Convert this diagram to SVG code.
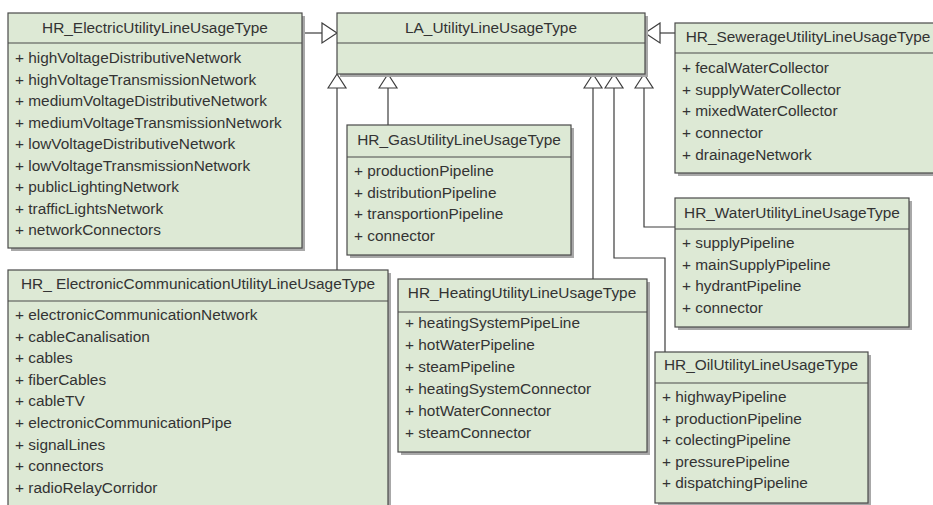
<svg xmlns="http://www.w3.org/2000/svg" width="933" height="505" viewBox="0 0 933 505">
  <style>
    .shadow { fill: #a8a8a8; }
    .box { fill: #dde9d5; stroke: #4a4a4a; stroke-width: 1.2; }
    .sep { stroke: #4a4a4a; stroke-width: 1.2; }
    .title { font-family: "Liberation Sans", Arial, sans-serif; font-size: 15.4px; fill: #333333; text-anchor: middle; }
    .attr { font-family: "Liberation Sans", Arial, sans-serif; font-size: 15.4px; fill: #333333; }
    .edge { fill: none; stroke: #3c3c3c; stroke-width: 1.2; }
    .head { fill: #ffffff; stroke: #3c3c3c; stroke-width: 1.2; stroke-linejoin: miter; }
  </style>
  <rect width="933" height="505" fill="#ffffff"/>

  <!-- generalisation connectors -->
  <g id="connectors">
    <!-- Electric -> LA -->
    <path class="edge" d="M302 33 H322"/>
    <polygon class="head" points="322,23 337,33 322,43"/>
    <!-- Sewerage -> LA -->
    <path class="edge" d="M675 33 H660"/>
    <polygon class="head" points="660,23 645,33 660,43"/>
    <!-- ElectronicCommunication -> LA -->
    <path class="edge" d="M337 270 V88"/>
    <polygon class="head" points="328,88 337,74 346,88"/>
    <!-- Gas -> LA -->
    <path class="edge" d="M388 125 V88"/>
    <polygon class="head" points="379,88 388,74 397,88"/>
    <!-- Heating -> LA -->
    <path class="edge" d="M593 279 V88"/>
    <polygon class="head" points="584,88 593,74 602,88"/>
    <!-- Oil -> LA -->
    <path class="edge" d="M665 352 V258 H614 V88"/>
    <polygon class="head" points="605,88 614,74 623,88"/>
    <!-- Water -> LA -->
    <path class="edge" d="M675 227 H644 V88"/>
    <polygon class="head" points="635,88 644,74 653,88"/>
  </g>

  <g id="LA_UtilityLineUsageType">
    <rect class="shadow" x="340" y="16" width="308" height="61"/>
    <rect class="box" x="337" y="13" width="308" height="61"/>
    <line class="sep" x1="337" y1="43" x2="645" y2="43"/>
    <text class="title" x="491" y="33">LA_UtilityLineUsageType</text>
  </g>

  <g id="HR_ElectricUtilityLineUsageType">
    <rect class="shadow" x="11" y="16" width="294" height="235"/>
    <rect class="box" x="8" y="13" width="294" height="235"/>
    <line class="sep" x1="8" y1="43" x2="302" y2="43"/>
    <text class="title" x="155" y="33">HR_ElectricUtilityLineUsageType</text>
    <text class="attr" x="15" y="63">+ highVoltageDistributiveNetwork</text>
    <text class="attr" x="15" y="84.5">+ highVoltageTransmissionNetwork</text>
    <text class="attr" x="15" y="106">+ mediumVoltageDistributiveNetwork</text>
    <text class="attr" x="15" y="127.5">+ mediumVoltageTransmissionNetwork</text>
    <text class="attr" x="15" y="149">+ lowVoltageDistributiveNetwork</text>
    <text class="attr" x="15" y="170.5">+ lowVoltageTransmissionNetwork</text>
    <text class="attr" x="15" y="192">+ publicLightingNetwork</text>
    <text class="attr" x="15" y="213.5">+ trafficLightsNetwork</text>
    <text class="attr" x="15" y="235">+ networkConnectors</text>
  </g>

  <g id="HR_SewerageUtilityLineUsageType">
    <rect class="shadow" x="678" y="26" width="262" height="150"/>
    <rect class="box" x="675" y="23" width="262" height="150"/>
    <line class="sep" x1="675" y1="53" x2="937" y2="53"/>
    <text class="title" x="808" y="42">HR_SewerageUtilityLineUsageType</text>
    <text class="attr" x="682" y="73">+ fecalWaterCollector</text>
    <text class="attr" x="682" y="94.7">+ supplyWaterCollector</text>
    <text class="attr" x="682" y="116.4">+ mixedWaterCollector</text>
    <text class="attr" x="682" y="138.1">+ connector</text>
    <text class="attr" x="682" y="159.8">+ drainageNetwork</text>
  </g>

  <g id="HR_GasUtilityLineUsageType">
    <rect class="shadow" x="350" y="128" width="224" height="130"/>
    <rect class="box" x="347" y="125" width="224" height="130"/>
    <line class="sep" x1="347" y1="157" x2="571" y2="157"/>
    <text class="title" x="459" y="145">HR_GasUtilityLineUsageType</text>
    <text class="attr" x="354" y="176">+ productionPipeline</text>
    <text class="attr" x="354" y="197.7">+ distributionPipeline</text>
    <text class="attr" x="354" y="219.4">+ transportionPipeline</text>
    <text class="attr" x="354" y="241.1">+ connector</text>
  </g>

  <g id="HR_WaterUtilityLineUsageType">
    <rect class="shadow" x="678" y="201" width="234" height="129"/>
    <rect class="box" x="675" y="198" width="234" height="129"/>
    <line class="sep" x1="675" y1="229" x2="909" y2="229"/>
    <text class="title" x="792" y="218">HR_WaterUtilityLineUsageType</text>
    <text class="attr" x="682" y="248">+ supplyPipeline</text>
    <text class="attr" x="682" y="269.7">+ mainSupplyPipeline</text>
    <text class="attr" x="682" y="291.4">+ hydrantPipeline</text>
    <text class="attr" x="682" y="313.1">+ connector</text>
  </g>

  <g id="HR_ElectronicCommunicationUtilityLineUsageType">
    <rect class="shadow" x="11" y="273" width="380" height="240"/>
    <rect class="box" x="8" y="270" width="380" height="240"/>
    <line class="sep" x1="8" y1="301" x2="388" y2="301"/>
    <text class="title" x="198" y="289">HR_ ElectronicCommunicationUtilityLineUsageType</text>
    <text class="attr" x="15" y="320">+ electronicCommunicationNetwork</text>
    <text class="attr" x="15" y="341.6">+ cableCanalisation</text>
    <text class="attr" x="15" y="363.2">+ cables</text>
    <text class="attr" x="15" y="384.8">+ fiberCables</text>
    <text class="attr" x="15" y="406.4">+ cableTV</text>
    <text class="attr" x="15" y="428">+ electronicCommunicationPipe</text>
    <text class="attr" x="15" y="449.6">+ signalLines</text>
    <text class="attr" x="15" y="471.2">+ connectors</text>
    <text class="attr" x="15" y="492.8">+ radioRelayCorridor</text>
  </g>

  <g id="HR_HeatingUtilityLineUsageType">
    <rect class="shadow" x="401" y="282" width="249" height="173"/>
    <rect class="box" x="398" y="279" width="249" height="173"/>
    <line class="sep" x1="398" y1="312" x2="647" y2="312"/>
    <text class="title" x="522" y="298">HR_HeatingUtilityLineUsageType</text>
    <text class="attr" x="405" y="328">+ heatingSystemPipeLine</text>
    <text class="attr" x="405" y="350">+ hotWaterPipeline</text>
    <text class="attr" x="405" y="372">+ steamPipeline</text>
    <text class="attr" x="405" y="394">+ heatingSystemConnector</text>
    <text class="attr" x="405" y="416">+ hotWaterConnector</text>
    <text class="attr" x="405" y="438">+ steamConnector</text>
  </g>

  <g id="HR_OilUtilityLineUsageType">
    <rect class="shadow" x="658" y="355" width="213" height="151"/>
    <rect class="box" x="655" y="352" width="213" height="151"/>
    <line class="sep" x1="655" y1="383" x2="868" y2="383"/>
    <text class="title" x="761" y="370">HR_OilUtilityLineUsageType</text>
    <text class="attr" x="662" y="402">+ highwayPipeline</text>
    <text class="attr" x="662" y="423.5">+ productionPipeline</text>
    <text class="attr" x="662" y="445">+ colectingPipeline</text>
    <text class="attr" x="662" y="466.5">+ pressurePipeline</text>
    <text class="attr" x="662" y="488">+ dispatchingPipeline</text>
  </g>
</svg>
